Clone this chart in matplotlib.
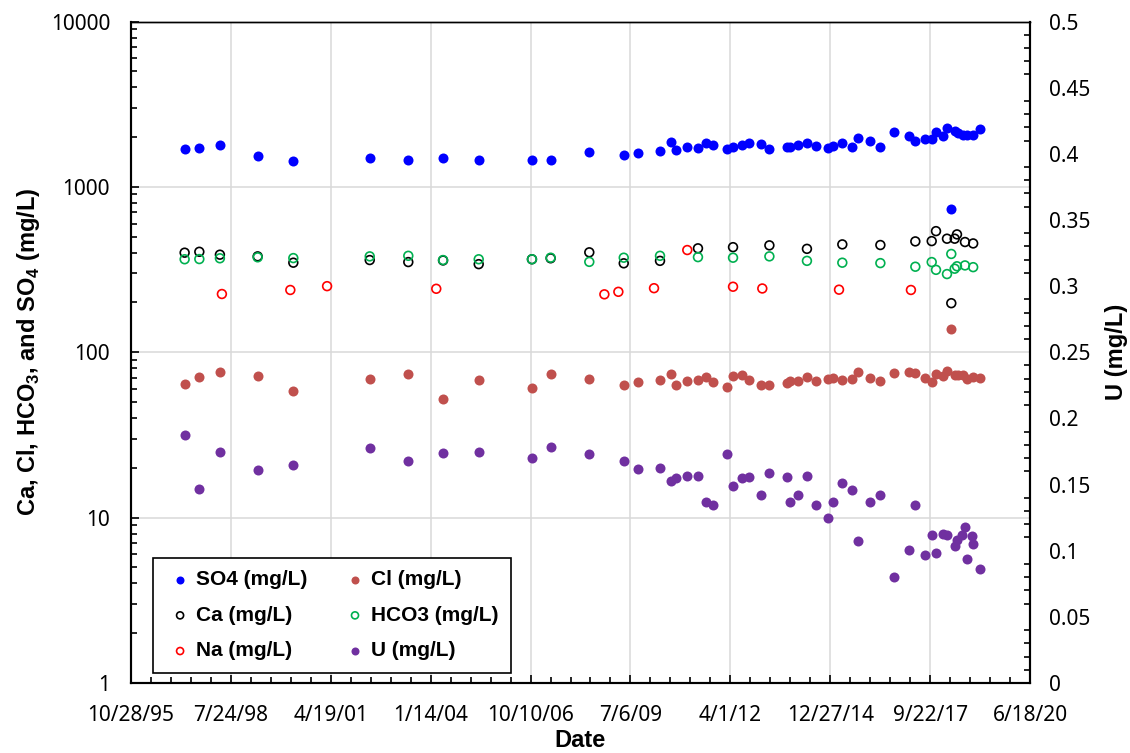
import matplotlib
matplotlib.use("Agg")
import matplotlib.pyplot as plt
import matplotlib.dates as mdates
from matplotlib.ticker import FixedLocator, FuncFormatter, MultipleLocator, LogLocator, NullFormatter
import numpy as np
import pandas as pd

plt.rcParams["font.family"] = ["Noto Sans", "DejaVu Sans"]
plt.rcParams["mathtext.fontset"] = "custom"
plt.rcParams["mathtext.rm"] = "Liberation Sans"
plt.rcParams["mathtext.bf"] = "Liberation Sans:bold"

## DATA

# sample dates shared by SO4 / Cl (and most of U)
dates = ["1997-04-17", "1997-09-11", "1998-04-05", "1999-04-18", "2000-04-09",
         "2002-05-14", "2003-06-04", "2004-05-17", "2005-05-09", "2006-10-24",
         "2007-04-29", "2008-05-20", "2009-04-30", "2009-09-17", "2010-04-28",
         "2010-08-13", "2010-10-05", "2011-01-26", "2011-05-13", "2011-08-04",
         "2011-10-10", "2012-02-27", "2012-04-28", "2012-07-30", "2012-10-02",
         "2013-02-03", "2013-04-27", "2013-10-23", "2013-11-19", "2014-02-08",
         "2014-05-08", "2014-08-03", "2014-12-01", "2015-01-27", "2015-04-27",
         "2015-07-30", "2015-10-01", "2016-01-31", "2016-05-12", "2016-09-29",
         "2017-02-20", "2017-04-27", "2017-07-30", "2017-10-08", "2017-11-17",
         "2018-01-26", "2018-03-10", "2018-04-22", "2018-05-26", "2018-06-25",
         "2018-08-19", "2018-09-28", "2018-11-27", "2019-02-03"]

so4 = [1686, 1718, 1797, 1542, 1426, 1500, 1459, 1500, 1446, 1459,
       1459, 1623, 1564, 1595, 1641, 1866, 1676, 1747, 1709, 1840,
       1790, 1686, 1747, 1797, 1833, 1815, 1700, 1747, 1747, 1797,
       1849, 1774, 1718, 1774, 1833, 1747, 1972, 1892, 1747, 2153,
       2036, 1884, 1937, 1937, 2153, 2038, 2259, 731, 2174, 2123,
       2065, 2065, 2065, 2227]

cl = [64, 71, 76, 72, 58, 69, 74, 52, 68, 60.5,
      74, 69, 63, 66, 68, 74, 63, 67, 68, 70.5,
      66, 61.6, 72, 72.5, 68, 63.6, 63.6, 65.5, 67, 67,
      71, 67, 69, 69.5, 68, 69, 76, 69.5, 67, 74.8,
      76, 74.8, 69.5, 66, 74, 72, 77.3, 139, 73, 73,
      73, 68.6, 70.8, 69.5]

u_dates = dates[:47] + ["2018-05-26", "2018-06-15", "2018-08-04", "2018-09-06",
                        "2018-09-28", "2018-11-20", "2018-11-27", "2019-02-03"]
u = [0.1877, 0.1466, 0.1746, 0.1608, 0.1648, 0.1779, 0.1678, 0.1736, 0.1748, 0.1698,
     0.1786, 0.1731, 0.1678, 0.1618, 0.1627, 0.1527, 0.1552, 0.1567, 0.1567, 0.1368,
     0.1348, 0.1729, 0.1489, 0.1550, 0.1557, 0.1419, 0.1587, 0.1557, 0.1368, 0.1419,
     0.1567, 0.1348, 0.1247, 0.1368, 0.1509, 0.1456, 0.1076, 0.1368, 0.1419, 0.0801,
     0.1005, 0.1348, 0.0970, 0.1116, 0.0980, 0.1126, 0.1116,
     0.1036, 0.1081, 0.1119, 0.1179, 0.0937, 0.1111, 0.1048, 0.0864]

ca_dates = dates[:12] + ["2009-04-30", "2010-04-28", "2011-05-13", "2012-04-28",
                         "2013-04-27", "2014-05-08", "2015-04-27", "2016-05-12",
                         "2017-04-27", "2017-10-08", "2017-11-20", "2018-03-10",
                         "2018-04-22", "2018-05-26", "2018-06-18", "2018-09-06",
                         "2018-11-27"]
ca = [400, 405, 389, 380, 348, 361, 351, 359, 341, 365, 370, 402,
      345, 357, 425, 432, 443, 422, 449, 445, 468, 470, 540, 486,
      198, 486, 516, 464, 455]
hco3 = [365, 366, 370, 375, 371, 380, 383, 361, 365, 365, 373, 352,
        373, 383, 376, 373, 380, 357, 348, 346, 329, 351, 315, 297,
        393, 320, 331, 335, 327]

na_dates = ["1998-04-25", "2000-03-10", "2001-03-13", "2004-03-10", "2008-10-18",
            "2009-03-07", "2010-02-27", "2011-01-26", "2012-04-28", "2013-02-15",
            "2015-03-25", "2017-03-14"]
na = [225, 238, 251, 242, 224, 232, 244, 415, 249, 243, 239, 238]

x_start = "1995-10-28"
x_end = "2020-06-18"

## STYLE
SO4_COLOR = "#0000FF"
CL_COLOR = "#C0504D"
CA_COLOR = "#000000"
HCO3_COLOR = "#00B050"
NA_COLOR = "#FF0000"
U_COLOR = "#7030A0"
GRID_COLOR = "#D9D9D9"

TICK_SIZE = 15
BOLD_FONT = {"family": "Liberation Sans", "weight": "bold", "size": 17}

FILLED = dict(s=52, linewidths=0)
OPEN = dict(s=40, facecolors="none", linewidths=1.2)


def to_num(lst):
  return mdates.date2num(pd.to_datetime(lst))


fig = plt.figure(figsize=(11.30, 7.53), dpi=100)
ax = fig.add_axes([131 / 1130, 70 / 753, 899 / 1130, 661.5 / 753])
ax2 = ax.twinx()

ax.scatter(to_num(dates), so4, color=SO4_COLOR, label="SO4 (mg/L)", zorder=3, **FILLED)
ax.scatter(to_num(dates), cl, color=CL_COLOR, label="Cl (mg/L)", zorder=3, **FILLED)
ax.scatter(to_num(ca_dates), ca, edgecolors=CA_COLOR, label="Ca (mg/L)", zorder=3, **OPEN)
ax.scatter(to_num(ca_dates), hco3, edgecolors=HCO3_COLOR, label="HCO3 (mg/L)", zorder=3, **OPEN)
ax.scatter(to_num(na_dates), na, edgecolors=NA_COLOR, label="Na (mg/L)", zorder=3, **OPEN)
ax2.scatter(to_num(u_dates), u, color=U_COLOR, label="U (mg/L)", zorder=3, **FILLED)

# x axis: Excel style, major unit 1000 days, minor 200
x0, x1 = to_num([x_start, x_end])
ax.set_xlim(x0, x1)
ax.xaxis.set_major_locator(FixedLocator(np.arange(x0, x1 + 1, 1000)))
ax.xaxis.set_minor_locator(FixedLocator(np.arange(x0, x1 + 1, 200)))
ax.xaxis.set_major_formatter(FuncFormatter(
  lambda v, p: (lambda d: f"{d.month}/{d.day}/{d:%y}")(mdates.num2date(v))))

# left axis: log
ax.set_yscale("log")
ax.set_ylim(1, 10000)
ax.yaxis.set_major_locator(LogLocator(base=10, numticks=10))
ax.yaxis.set_minor_locator(LogLocator(base=10, subs=np.arange(2, 10), numticks=20))
ax.yaxis.set_minor_formatter(NullFormatter())
ax.yaxis.set_major_formatter(FuncFormatter(lambda v, p: f"{v:.0f}"))

# right axis: linear
ax2.set_ylim(0, 0.5)
ax2.yaxis.set_major_locator(MultipleLocator(0.05))
ax2.yaxis.set_minor_locator(MultipleLocator(0.01))
ax2.yaxis.set_major_formatter(FuncFormatter(lambda v, p: f"{v:g}"))

ax.grid(True, which="major", color=GRID_COLOR, linewidth=1.1, zorder=0)
ax.set_axisbelow(True)

for a in (ax, ax2):
  a.tick_params(which="both", direction="in", colors="black", labelsize=TICK_SIZE)
  a.tick_params(which="major", length=6, width=1.2)
  a.tick_params(which="minor", length=4.5, width=1.2)
  for side in ("left", "right", "bottom"):
    a.spines[side].set_linewidth(1.5)
  a.spines["top"].set_linewidth(1.0)
ax.tick_params(axis="x", which="major", pad=16)
ax.tick_params(axis="y", which="major", pad=15)
ax2.tick_params(axis="y", which="major", pad=14, length=0)

ax.set_xlabel("Date", fontdict=BOLD_FONT, labelpad=2)
ax.set_ylabel(r"Ca, Cl, HCO$_\mathbf{3}$, and SO$_\mathbf{4}$ (mg/L)",
              fontdict=BOLD_FONT, labelpad=6)
ax2.set_ylabel("U (mg/L)", fontdict=BOLD_FONT, labelpad=10)

# legend: rows SO4/Cl, Ca/HCO3, Na/U
h1, l1 = ax.get_legend_handles_labels()
h2, l2 = ax2.get_legend_handles_labels()
handles = h1 + h2
labels = l1 + l2
order = [0, 2, 4, 1, 3, 5]
leg = ax2.legend([handles[i] for i in order], [labels[i] for i in order],
                 ncol=2, loc="lower left", bbox_to_anchor=(153 / 1130, 80 / 753),
                 bbox_transform=fig.transFigure, borderaxespad=0,
                 prop={"family": "Liberation Sans", "weight": "bold", "size": 15},
                 markerscale=0.8, handlelength=1.4, handletextpad=0.05,
                 labelspacing=0.8, columnspacing=1.6, borderpad=0.6,
                 fancybox=False, edgecolor="black", framealpha=1)
leg.get_frame().set_linewidth(1.2)
leg.set_zorder(10)

plt.savefig("out.png", dpi=100)
